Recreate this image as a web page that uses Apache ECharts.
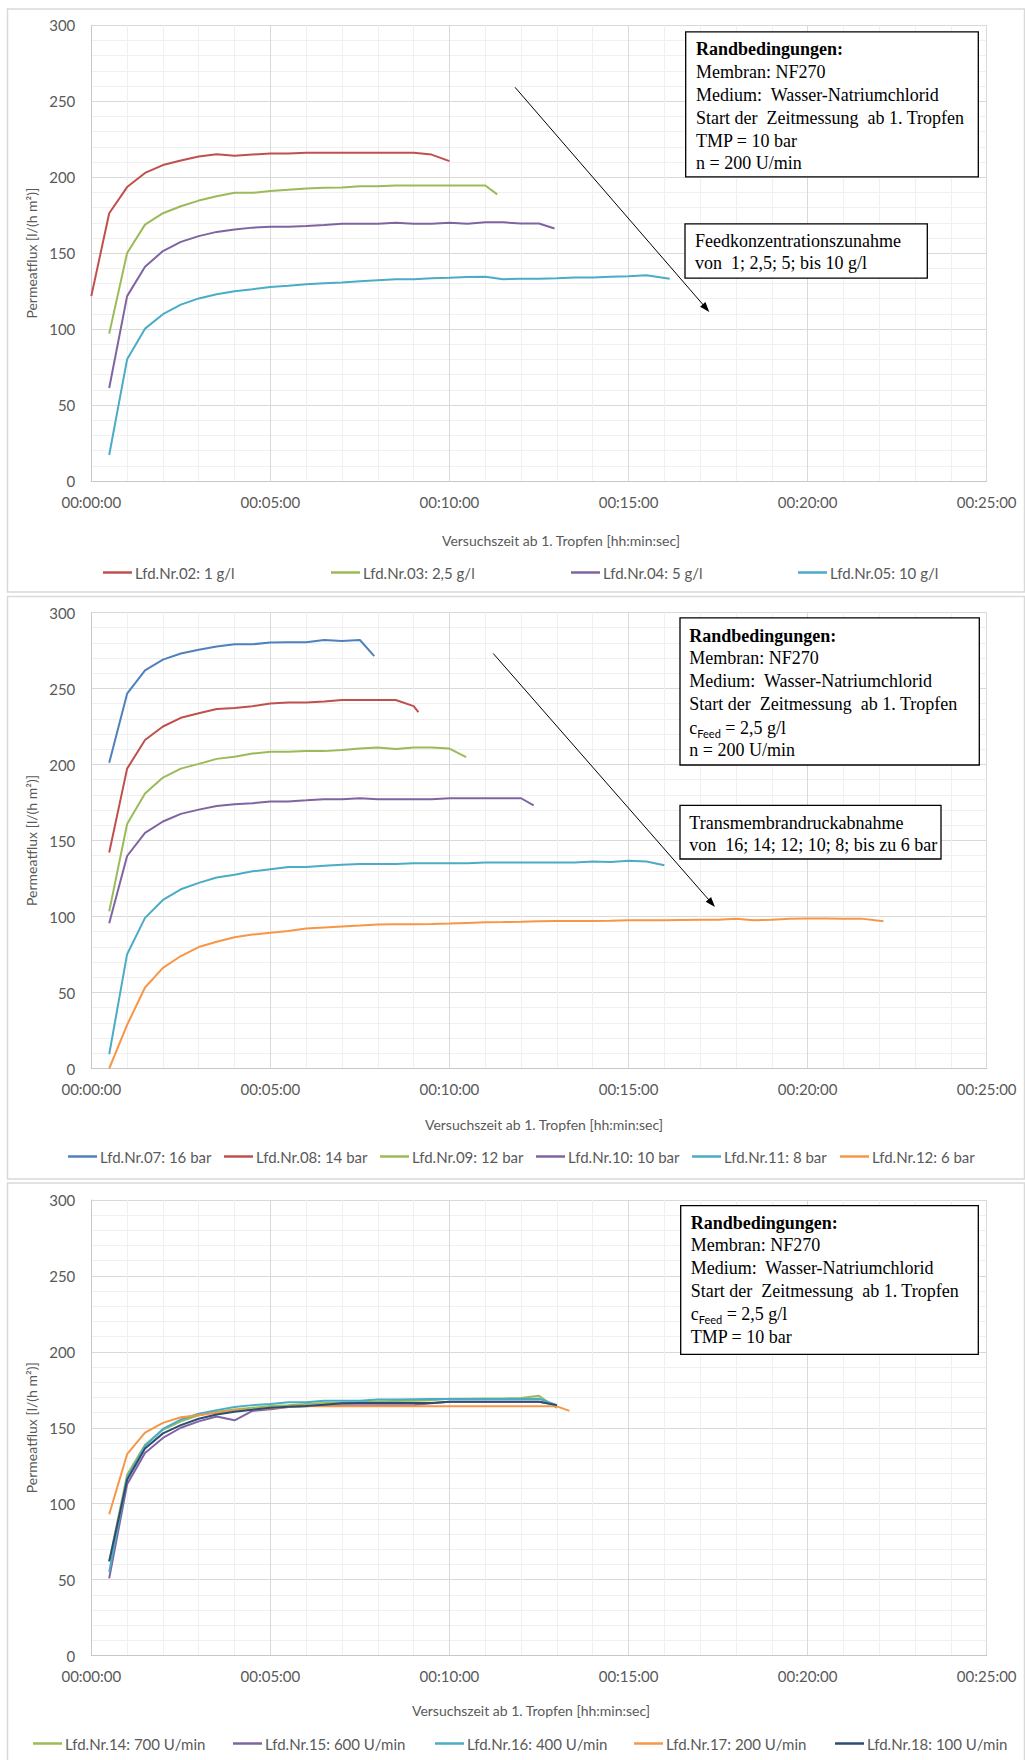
<!DOCTYPE html>
<html>
<head>
<meta charset="utf-8">
<script src="https://cdn.jsdelivr.net/npm/echarts@6/dist/echarts.min.js"></script>
<style>
  html, body { margin: 0; padding: 0; background: #ffffff; }
  #chart { width: 1025px; height: 1760px; }
</style>
</head>
<body>
<div id="chart"></div>
<script>
// ---------- Messdaten: Zeit in Sekunden ab 1. Tropfen, Permeatflux in l/(h m²) ----------

// Diagramm 1: Variation der Feedkonzentration
const zeitNr02 = [0,30,60,90,120,150,180,210,240,270,300,330,360,390,420,450,480,510,540,570,600];
const fluxNr02 = [121.7,176.3,193.5,202.8,208,211,213.6,215.1,214.1,214.9,215.6,215.6,216.1,216.1,216.1,216.1,216.1,216.1,216.1,214.9,210.6];

const zeitNr03 = [30,60,90,120,150,180,210,240,270,300,330,360,390,420,450,480,510,540,570,600,630,660,680];
const fluxNr03 = [97,150.1,168.8,176.3,180.9,184.6,187.4,189.7,189.7,190.9,191.7,192.5,193,193.2,194,194,194.5,194.5,194.5,194.5,194.5,194.5,188.7];

const zeitNr04 = [30,60,90,120,150,180,210,240,270,300,330,360,390,420,450,480,510,540,570,600,630,660,690,720,750,776];
const fluxNr04 = [61.2,121.7,141,151.4,157.4,161.2,164,165.5,166.8,167.3,167.3,167.8,168.5,169.3,169.3,169.3,170,169.3,169.3,170,169.3,170.3,170.3,169.5,169.5,166.2];

const zeitNr05 = [30,60,90,120,150,180,210,240,270,300,330,360,390,420,450,480,510,540,570,600,630,660,690,720,750,780,810,840,870,900,930,969];
const fluxNr05 = [17.1,80.1,100.3,109.8,116.1,120.2,122.9,124.9,126.2,127.7,128.5,129.5,130.2,130.7,131.5,132.2,132.8,132.8,133.5,133.8,134.3,134.5,132.8,133.2,133.2,133.5,134,134,134.5,134.8,135.5,133.2];

// Diagramm 2: Variation des Transmembrandrucks
const zeitNr07 = [30,60,90,120,150,180,210,240,270,300,330,360,390,420,450,474];
const fluxNr07 = [201.1,246.6,261.9,269,273,275.5,277.7,279.1,279.1,280.2,280.5,280.5,281.9,281.2,281.9,271.3];

const zeitNr08 = [30,60,90,120,150,180,210,240,270,300,330,360,390,420,450,480,510,540,548];
const fluxNr08 = [142.1,197.3,216.1,225,230.7,233.7,236.5,237.2,238.4,240.1,240.8,240.8,241.5,242.4,242.4,242.4,242.4,238.4,234.4];

const zeitNr09 = [30,60,90,120,150,180,210,240,270,300,330,360,390,420,450,480,510,540,570,600,628];
const fluxNr09 = [103.4,160.9,180.9,191.4,197.3,200.4,203.7,205.1,207.2,208.4,208.4,208.8,208.8,209.5,210.5,211.2,210.2,211.2,211.2,210.5,204.8];

const zeitNr10 = [30,60,90,120,150,180,210,240,270,300,330,360,390,420,450,480,510,540,570,600,630,660,690,720,741];
const fluxNr10 = [95.6,139.8,155,162.5,167.5,170.3,172.7,173.8,174.5,175.7,175.7,176.4,177.1,177.1,177.8,177.1,177.1,177.1,177.1,177.8,177.8,177.8,177.8,177.8,173.1];

const zeitNr11 = [30,60,90,120,150,180,210,240,270,300,330,360,390,420,450,480,510,540,570,600,630,660,690,720,750,780,810,840,870,900,930,960];
const fluxNr11 = [9.4,75.2,99.1,110.9,117.9,122.1,125.7,127.5,129.7,131.1,132.5,132.5,133.4,134.1,134.6,134.6,134.6,135.1,135.1,135.1,135.1,135.5,135.5,135.5,135.5,135.5,135.5,136.2,135.8,136.7,136.2,133.7];

const zeitNr12 = [30,60,90,120,150,180,210,240,270,300,330,360,390,420,450,480,510,540,570,600,630,660,690,720,750,780,810,840,870,900,930,960,990,1020,1050,1080,1110,1140,1170,1200,1230,1260,1290,1327];
const fluxNr12 = [0,28.7,53.3,66.2,74,79.9,83.4,86.4,88.1,89.3,90.4,92.1,92.8,93.5,94,94.7,94.9,94.9,95.1,95.4,95.8,96.2,96.3,96.5,96.8,97,97,97.1,97.2,97.5,97.6,97.6,97.7,97.8,97.8,98.5,97.6,97.8,98.6,98.7,98.7,98.6,98.6,96.8];

// Diagramm 3: Variation der Drehzahl
const zeitNr14 = [30,60,90,120,150,180,210,240,270,300,330,360,390,420,450,480,510,540,570,600,630,660,690,720,750,780];
const fluxNr14 = [62,119,138.8,148.7,154.2,158.2,160.6,162.1,163.1,164.4,164.9,165.6,166.3,166.5,166.8,167.3,167.6,167.8,168.1,169.1,169.1,169.3,169.3,169.6,171,163];

const zeitNr15 = [30,60,90,120,150,180,210,240,270,300,330,360,390,420,450,480,510,540,570,600,630,660,690,720,750,780];
const fluxNr15 = [50.8,112.8,133.4,143.3,150,154.2,157.4,154.9,161.1,162.1,163.6,164.1,164.9,164.9,164.9,164.9,164.9,164.9,166.1,167.1,167.1,167.1,167.1,167.1,167.1,164.9];

const zeitNr16 = [30,60,90,120,150,180,210,240,270,300,330,360,390,420,450,480,510,540,570,600,630,660,690,720,750,780];
const fluxNr16 = [55,117,138,149.2,155.4,159.2,161.6,163.6,164.9,165.6,166.8,166.8,167.8,167.8,167.8,168.6,168.6,168.8,169,169,169,169,169,169,169.1,164.9];

const zeitNr17 = [30,60,90,120,150,180,210,240,270,300,330,360,390,420,450,480,510,540,570,600,630,660,690,720,750,780,801];
const fluxNr17 = [93,132.6,146.8,153.2,156.9,158.2,159.9,161.6,161.9,162.9,163.6,164.1,164.1,164.1,164.1,164.1,164.1,164.1,164.1,164.1,164.1,164.1,164.1,164.1,164.1,164.1,161.1];

const zeitNr18 = [30,60,90,120,150,180,210,240,270,300,330,360,390,420,450,480,510,540,570,600,630,660,690,720,750,780];
const fluxNr18 = [62,115.8,136.3,146.3,151.7,155.9,158.7,160.6,161.9,163.1,163.9,164.4,165.1,166.1,166.3,166.3,166.3,166.3,166.3,167.1,167.1,167.1,167.1,167.1,167.1,164.9];

// Tendenzpfeile: [Zeit in s, Permeatflux] für Anfang und Ende
const pfeilKonzentration = [[709.8, 259.2], [1029.8, 113.8]];
const pfeilDruck = [[673.4, 273.0], [1039.3, 108.8]];

// Achsen
const yTicks = { min: 0, max: 300, step: 50 };
const xTicks = { min: 0, max: 1500, step: 300 };
const xTitel = 'Versuchszeit ab 1. Tropfen [hh:min:sec]';
const yTitel = 'Permeatflux [l/(h m²)]';

// ---------- Darstellung ----------
const SANS = 'Lato, "Open Sans", sans-serif';
const SERIF = '"Liberation Serif", "DejaVu Serif", serif';
const GRAU = '#595959';

function hms(s) {
  const m = Math.floor(s / 60), sec = Math.round(s % 60);
  return '00:' + String(m).padStart(2, '0') + ':' + String(sec).padStart(2, '0');
}

const gridPos = [
  { left: 91.3, top: 25.3, width: 895.4, height: 455.7 },
  { left: 91.3, top: 612.5, width: 895.4, height: 456 },
  { left: 91.3, top: 1200, width: 895.4, height: 455.5 }
];
const titelGap = [52, 49, 48];
const titelPad = [[0, 0, 0, 44], [0, 0, 0, 10], [0, 16, 0, 0]];

const gitter = { show: true, lineStyle: { color: '#d9d9d9', width: 1 } };
const feingitter = { show: true, lineStyle: { color: '#f0f0f0', width: 1 } };
const achslinie = { show: true, lineStyle: { color: '#c8c8c8', width: 1 } };

const xAxes = gridPos.map((g, i) => ({
  type: 'value', gridIndex: i, min: xTicks.min, max: xTicks.max, interval: xTicks.step,
  axisLine: achslinie, axisTick: { show: false },
  axisLabel: { color: GRAU, fontFamily: SANS, fontSize: 15, margin: 13, formatter: hms, showMinLabel: true, showMaxLabel: true },
  splitLine: gitter, minorTick: { show: false, splitNumber: 5 }, minorSplitLine: feingitter,
  name: xTitel, nameLocation: 'middle', nameGap: titelGap[i],
  nameTextStyle: { color: GRAU, fontFamily: SANS, fontSize: 14, padding: titelPad[i] }
}));

const yAxes = gridPos.map((g, i) => ({
  type: 'value', gridIndex: i, min: yTicks.min, max: yTicks.max, interval: yTicks.step,
  axisLine: achslinie, axisTick: { show: false },
  axisLabel: { color: GRAU, fontFamily: SANS, fontSize: 15, margin: 16 },
  splitLine: gitter, minorTick: { show: false, splitNumber: 5 }, minorSplitLine: feingitter,
  name: yTitel, nameLocation: 'middle', nameGap: 47,
  nameTextStyle: { color: GRAU, fontFamily: SANS, fontSize: 14 }
}));

function linie(name, zeit, flux, farbe, idx, extra) {
  return Object.assign({
    name: name, type: 'line', xAxisIndex: idx, yAxisIndex: idx,
    data: zeit.map((t, k) => [t, flux[k]]),
    symbol: 'none', showSymbol: false, smooth: false,
    lineStyle: { color: farbe, width: 2 }, itemStyle: { color: farbe },
    emphasis: { disabled: true }, silent: true, animation: false
  }, extra || {});
}

function pfeil(p) {
  return {
    markLine: {
      silent: true, animation: false,
      symbol: ['none', 'triangle'], symbolSize: [7, 10],
      label: { show: false },
      lineStyle: { color: '#000000', width: 1, type: 'solid' },
      emphasis: { disabled: true },
      data: [[{ coord: p[0] }, { coord: p[1] }]]
    }
  };
}

const C = { blau: '#4F81BD', rot: '#C0504D', gruen: '#9BBB59', lila: '#8064A2', tuerkis: '#4BACC6', orange: '#F79646', dunkel: '#2C4D75' };

const series = [
  linie('Lfd.Nr.02: 1 g/l', zeitNr02, fluxNr02, C.rot, 0, pfeil(pfeilKonzentration)),
  linie('Lfd.Nr.03: 2,5 g/l', zeitNr03, fluxNr03, C.gruen, 0),
  linie('Lfd.Nr.04: 5 g/l', zeitNr04, fluxNr04, C.lila, 0),
  linie('Lfd.Nr.05: 10 g/l', zeitNr05, fluxNr05, C.tuerkis, 0),

  linie('Lfd.Nr.07: 16 bar', zeitNr07, fluxNr07, C.blau, 1, pfeil(pfeilDruck)),
  linie('Lfd.Nr.08: 14 bar', zeitNr08, fluxNr08, C.rot, 1),
  linie('Lfd.Nr.09: 12 bar', zeitNr09, fluxNr09, C.gruen, 1),
  linie('Lfd.Nr.10: 10 bar', zeitNr10, fluxNr10, C.lila, 1),
  linie('Lfd.Nr.11: 8 bar', zeitNr11, fluxNr11, C.tuerkis, 1),
  linie('Lfd.Nr.12: 6 bar', zeitNr12, fluxNr12, C.orange, 1),

  linie('Lfd.Nr.14: 700 U/min', zeitNr14, fluxNr14, C.gruen, 2),
  linie('Lfd.Nr.15: 600 U/min', zeitNr15, fluxNr15, C.lila, 2),
  linie('Lfd.Nr.16: 400 U/min', zeitNr16, fluxNr16, C.tuerkis, 2),
  linie('Lfd.Nr.17: 200 U/min', zeitNr17, fluxNr17, C.orange, 2),
  linie('Lfd.Nr.18: 100 U/min', zeitNr18, fluxNr18, C.dunkel, 2)
];

// Legendeneinträge: Name, linke Kante, vertikale Mitte
const legendenPlatz = [
  ['Lfd.Nr.02: 1 g/l', 103, 573], ['Lfd.Nr.03: 2,5 g/l', 331, 573], ['Lfd.Nr.04: 5 g/l', 571, 573], ['Lfd.Nr.05: 10 g/l', 798, 573],
  ['Lfd.Nr.07: 16 bar', 68, 1157], ['Lfd.Nr.08: 14 bar', 224, 1157], ['Lfd.Nr.09: 12 bar', 380, 1157],
  ['Lfd.Nr.10: 10 bar', 536, 1157], ['Lfd.Nr.11: 8 bar', 692, 1157], ['Lfd.Nr.12: 6 bar', 840, 1157],
  ['Lfd.Nr.14: 700 U/min', 33, 1744], ['Lfd.Nr.15: 600 U/min', 233, 1744], ['Lfd.Nr.16: 400 U/min', 435, 1744],
  ['Lfd.Nr.17: 200 U/min', 634, 1744], ['Lfd.Nr.18: 100 U/min', 835, 1744]
];
const legend = legendenPlatz.map(([name, x, y]) => ({
  data: [name], left: x, top: y - 8, padding: 0, orient: 'horizontal',
  icon: 'rect', itemWidth: 29, itemHeight: 2.5, selectedMode: false,
  textStyle: { color: GRAU, fontFamily: SANS, fontSize: 15, padding: [0, 0, 0, -2] }
}));

// ---------- Rahmen und Textkästen ----------
const elemente = [];
[[7.5, 9, 1017, 583], [7.5, 596.5, 1017, 582.5], [7.5, 1183, 1017, 600]].forEach(([x, y, w, h]) => {
  elemente.push({ type: 'rect', z: -10, silent: true, shape: { x: x, y: y, width: w, height: h },
    style: { fill: 'none', stroke: '#d9d9d9', lineWidth: 1.5 } });
});

const cFeed = { rich: true };
function kasten(x0, y0, x1, y1, textX, zeilen) {
  elemente.push({ type: 'rect', z: 50, silent: true, shape: { x: x0, y: y0, width: x1 - x0, height: y1 - y0 },
    style: { fill: '#ffffff', stroke: '#000000', lineWidth: 1.3 } });
  zeilen.forEach(([text, y, fett]) => {
    if (text === cFeed) {
      elemente.push({ type: 'text', z: 51, silent: true, x: textX, y: y,
        style: {
          text: '{a|c}{b|Feed}{a| = 2,5 g/l}',
          verticalAlign: 'middle', textVerticalAlign: 'middle', align: 'left', textAlign: 'left',
          rich: {
            a: { fontFamily: SERIF, fontSize: 18, fill: '#000000', color: '#000000', lineHeight: 22 },
            b: { fontFamily: SANS, fontSize: 11, fill: '#000000', color: '#000000', lineHeight: 22, verticalAlign: 'bottom' }
          }
        } });
    } else {
      elemente.push({ type: 'text', z: 51, silent: true, x: textX, y: y,
        style: { text: text, font: (fett ? 'bold ' : '') + '18px ' + SERIF, fill: '#000000',
          verticalAlign: 'middle', textVerticalAlign: 'middle', align: 'left', textAlign: 'left' } });
    }
  });
}

kasten(685.7, 31.8, 978.3, 176.8, 696, [
  ['Randbedingungen:', 49, true], ['Membran: NF270', 71.5], ['Medium:  Wasser-Natriumchlorid', 94.5],
  ['Start der  Zeitmessung  ab 1. Tropfen', 118], ['TMP = 10 bar', 140.5], ['n = 200 U/min', 163.4]
]);
kasten(685, 223.9, 927.3, 278.2, 695, [
  ['Feedkonzentrationszunahme', 241], ['von  1; 2,5; 5; bis 10 g/l', 263]
]);
kasten(680, 617.9, 979.3, 765, 689.3, [
  ['Randbedingungen:', 635.7, true], ['Membran: NF270', 657.9], ['Medium:  Wasser-Natriumchlorid', 681],
  ['Start der  Zeitmessung  ab 1. Tropfen', 704.3], [cFeed, 727.5], ['n = 200 U/min', 749.6]
]);
kasten(680, 805.4, 941, 859, 689.3, [
  ['Transmembrandruckabnahme', 822.9], ['von  16; 14; 12; 10; 8; bis zu 6 bar', 844.6]
]);
kasten(680.7, 1205.7, 978.3, 1354.3, 690.7, [
  ['Randbedingungen:', 1222.7, true], ['Membran: NF270', 1244.5], ['Medium:  Wasser-Natriumchlorid', 1267.8],
  ['Start der  Zeitmessung  ab 1. Tropfen', 1291.1], [cFeed, 1314.1], ['TMP = 10 bar', 1336.7]
]);

const chart = echarts.init(document.getElementById('chart'), null, { renderer: 'svg', width: 1025, height: 1760 });
chart.setOption({
  backgroundColor: '#ffffff',
  animation: false,
  textStyle: { fontFamily: SANS },
  grid: gridPos.map(g => Object.assign({ containLabel: false }, g)),
  xAxis: xAxes,
  yAxis: yAxes,
  legend: legend,
  series: series,
  graphic: { elements: elemente }
});
</script>
</body>
</html>
